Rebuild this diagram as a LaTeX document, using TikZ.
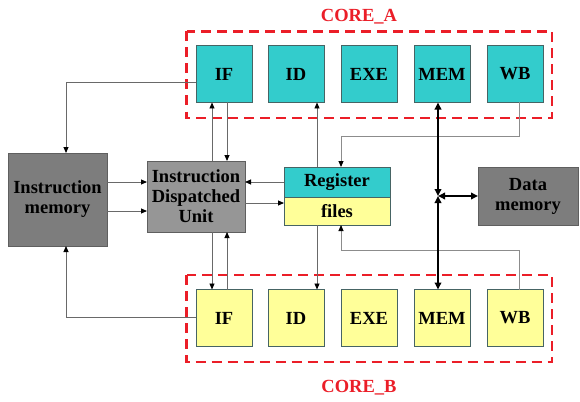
\documentclass[tikz,border=0pt]{standalone}
\usepackage{fontspec}
\setmainfont{Liberation Serif}
\usetikzlibrary{arrows.meta,calc}
\definecolor{tealA}{RGB}{51,204,204}
\definecolor{yelB}{RGB}{255,255,153}
\definecolor{gIDU}{RGB}{150,150,150}
\definecolor{gMem}{RGB}{125,125,125}
\definecolor{cred}{RGB}{235,30,40}
\definecolor{lineg}{RGB}{105,105,105}
\definecolor{lineg2}{RGB}{140,140,140}
\definecolor{boxedge}{RGB}{70,100,100}
\definecolor{grayedge}{RGB}{95,95,95}
\begin{document}
\begin{tikzpicture}[x=1pt,y=-1pt,
  txt/.style={font=\fontsize{18.5}{20}\selectfont\bfseries, text=black, align=center},
  stage/.style={txt, draw=boxedge, line width=0.8pt, minimum width=56pt, minimum height=57pt, inner sep=0pt, outer sep=0pt},
  stA/.style={stage, fill=tealA},
  stB/.style={stage, fill=yelB},
  grbox/.style={txt, draw=grayedge, line width=0.8pt, inner sep=0pt, outer sep=0pt},
  conn/.style={draw=lineg, line width=0.9pt, -{Triangle[length=6pt,width=5pt,color=black]}},
  connl/.style={conn, draw=lineg2},
  bus/.style={draw=black, line width=2.6pt, {Triangle[length=7pt,width=6.5pt]}-{Triangle[length=7pt,width=6.5pt]}},
  busH/.style={draw=black, line width=1.8pt, {Triangle[length=7pt,width=6.5pt]}-{Triangle[length=7pt,width=6.5pt]}},
  core/.style={draw=cred, line width=2.5pt, dash pattern=on 10pt off 6pt},
  corelabel/.style={font=\fontsize{18.5}{20}\selectfont\bfseries, text=cred, inner sep=0pt},
]
\useasboundingbox (0,0) rectangle (580,401);

% dashed core frames
\draw[core] (186.5,31.5) rectangle (552,118);
\draw[core] (186.5,275) rectangle (552,362);
\node[corelabel] (labA) at (359,17) {CORE\_A};
\node[corelabel] (labB) at (359,388) {CORE\_B};

% core A stages
\node[stA] (IFA)  at (224,74) {IF};
\node[stA] (IDA)  at (296,74) {ID};
\node[stA] (EXA)  at (369,74) {EXE};
\node[stA] (MEMA) at (442,74) {MEM};
\node[stA] (WBA)  at (515,74) {WB};
% core B stages
\node[stB] (IFB)  at (224,318) {IF};
\node[stB] (IDB)  at (296,318) {ID};
\node[stB] (EXB)  at (369,318) {EXE};
\node[stB] (MEMB) at (442,318) {MEM};
\node[stB] (WBB)  at (515,318) {WB};

% central blocks
\node[grbox, fill=gMem, minimum width=99pt, minimum height=93pt] (IM) at (57.5,199.5) {Instruction\\memory};
\node[grbox, fill=gIDU, minimum width=98pt, minimum height=71pt] (IDU) at (196,196.5) {Instruction\\Dispatched\\Unit};
\node[grbox, draw=boxedge, fill=tealA, minimum width=106pt, minimum height=30pt] (RFt) at (337,182) {Register};
\node[grbox, draw=boxedge, fill=yelB, minimum width=106pt, minimum height=28pt] (RFb) at (337,211) {files};
\node[grbox, fill=gMem, minimum width=100pt, minimum height=58pt] (DM) at (528,196) {Data\\memory};

% IF <-> instruction memory
\coordinate (imt) at ([xshift=8.5pt]IM.north);
\coordinate (imb) at ([xshift=8.5pt]IM.south);
\draw[conn] ([yshift=-8pt]IFA.west) -| (imt);
\draw[conn] ([yshift=1pt]IFB.west) -| (imb);

% instruction memory -> dispatch unit
\coordinate (m1) at ([yshift=17.5pt]IM.east);
\coordinate (m2) at ([yshift=-11.5pt]IM.east);
\draw[conn] (m1) -- (m1 -| IDU.west);
\draw[conn] (m2) -- (m2 -| IDU.west);

% dispatch unit <-> IF stages
\coordinate (xa) at ([xshift=-12pt]IFA.south);
\coordinate (xb) at ([xshift=3pt]IFA.south);
\draw[conn] (xa |- IDU.north) -- (xa);
\draw[conn] (xb) -- (xb |- IDU.north);
\draw[conn] (xa |- IDU.south) -- (xa |- IFB.north);
\draw[conn] (xb |- IFB.north) -- (xb |- IDU.south);

% register files <-> dispatch unit
\coordinate (r2) at ([yshift=8pt]RFb.west);
\draw[conn] (RFt.west) -- (RFt.west -| IDU.east);
\draw[conn] (r2 -| IDU.east) -- (r2);

% register files -> ID stages
\coordinate (xr) at ([xshift=21pt]IDA.south);
\draw[conn] (xr |- RFt.north) -- (xr);
\draw[conn] (xr |- RFb.south) -- (xr |- IDB.north);

% WB -> register files
\coordinate (xw) at ([xshift=4pt]WBA.south);
\coordinate (rfin) at ([xshift=4pt]RFt.north);
\draw[connl] (xw) |- ($(xw)!0.53!(rfin)$) -| (rfin);
\coordinate (xwB) at ([xshift=4pt]WBB.north);
\coordinate (rfout) at ([xshift=4pt]RFb.south);
\draw[connl] (xwB) |- ($(xwB)!0.6!(rfout)$) -| (rfout);

% memory bus
\coordinate (bA) at ([xshift=-4pt]MEMA.south);
\coordinate (bB) at ([xshift=-4pt]MEMB.north);
\coordinate (J) at (bA |- DM.west);
\draw[bus] (bA) -- (J);
\draw[bus] (bB) -- (J);
\draw[busH] (J) -- (DM.west);
\end{tikzpicture}
\end{document}
